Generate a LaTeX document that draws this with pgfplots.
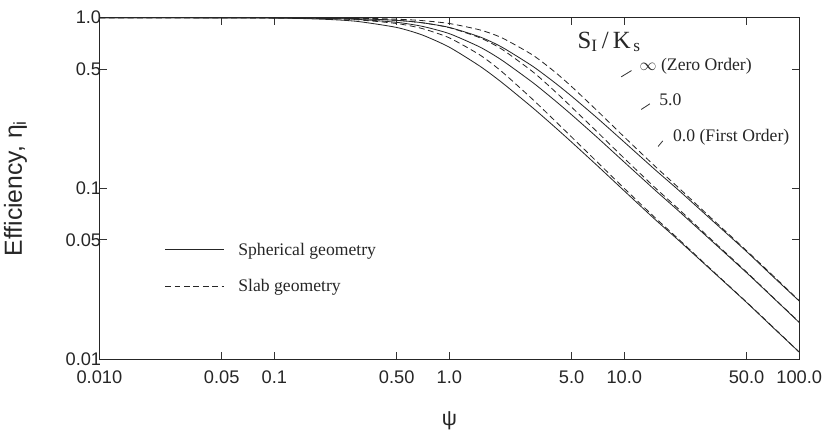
\documentclass[border=0pt]{standalone}
\usepackage{fontspec}
\setmainfont{Liberation Serif}
\setsansfont{Liberation Sans}
\usepackage{pgfplots}
\usepackage{pgfplotstable}
\pgfplotsset{compat=1.18}

% psi, sphere (first, 5.0, zero order), slab (first, 5.0, zero order)
\pgfplotstableread{
psi   s1     s5     sz     b1     b5     bz
0.01  1.0000 1.0000 1.0000 1.0000 1.0000 1.0000
0.1   0.9940 0.9973 0.9985 0.9967 0.9985 0.9992
0.2   0.9768 0.9895 0.9941 0.9869 0.9941 0.9967
0.3   0.9498 0.9768 0.9868 0.9710 0.9869 0.9926
0.5   0.8763 0.9391 0.9644 0.9242 0.9645 0.9797
0.7   0.7918 0.8897 0.9335 0.8634 0.9332 0.9611
1     0.6716 0.8060 0.8763 0.7616 0.8742 0.9242
1.5   0.5187 0.6716 0.7707 0.6034 0.7616 0.8469
2     0.4167 0.5630 0.6716 0.4820 0.6526 0.7616
3     0.2963 0.4167 0.5187 0.3317 0.4820 0.6034
4     0.2292 0.3281 0.4167 0.2498 0.3714 0.4820
5     0.1867 0.2700 0.3467 0.2000 0.2992 0.3947
7     0.1361 0.1990 0.2585 0.1429 0.2143 0.2852
10    0.0967 0.1425 0.1867 0.1000 0.1500 0.2000
15    0.0658 0.0977 0.1287 0.0674 0.1010 0.1347
20    0.0507 0.0753 0.0996 0.0515 0.0773 0.1030
30    0.0347 0.0517 0.0685 0.0350 0.0525 0.0700
50    0.0215 0.0321 0.0427 0.0216 0.0324 0.0432
70    0.0155 0.0232 0.0308 0.0156 0.0233 0.0312
100   0.0110 0.0164 0.0219 0.0110 0.0165 0.0220
}\effdata

\begin{document}
\begin{tikzpicture}
\begin{axis}[
  name=ax,
  scale only axis, width=20.9cm, height=10.2cm,
  xmode=log, ymode=log,
  xmin=0.01, xmax=100, ymin=0.01, ymax=1,
  xtick={0.01,0.05,0.1,0.5,1,5,10,50,100},
  xticklabels={0.010,0.05,0.1,0.50,1.0,5.0,10.0,50.0,100.0},
  ytick={0.01,0.05,0.1,0.5,1},
  yticklabels={0.01,0.05,0.1,0.5,1.0},
  tick label style={font=\sffamily\fontsize{15.5}{17}\selectfont, text=black!85},
  xticklabel style={yshift=-6pt},
  yticklabel style={xshift=5pt},
  major tick length=0.22cm, minor tick length=0.13cm,
  tick style={black!80, line width=0.6pt},
  axis line style={black!85, line width=1pt},
  xlabel={\sffamily ψ}, xlabel style={font=\fontsize{18}{20}\selectfont, text=black!85, yshift=-17pt},
  ylabel={Efficiency, η\textsubscript{i}},
  ylabel style={font=\sffamily\fontsize{21}{23}\selectfont, text=black!85, yshift=26pt},
  legend style={at={(0.088,0.355)}, anchor=north west, draw=none, fill=none,
                font=\fontsize{15}{17}\selectfont, row sep=15pt, text=black!85,
                /tikz/every odd column/.style={column sep=10pt}},
  legend cell align=left,
  /pgfplots/legend image code/.code={\draw[#1] (0cm,0cm) -- (1.75cm,0cm);},
  every axis plot/.append style={black!85, line width=0.7pt, smooth, tension=0.4},
]
\addplot[solid] table[x=psi, y=s1] {\effdata};
\addlegendentry{Spherical geometry}
\addplot[dash pattern=on 5pt off 3pt] table[x=psi, y=b1] {\effdata};
\addlegendentry{Slab geometry}
\addplot[forget plot, solid] table[x=psi, y=s5] {\effdata};
\addplot[forget plot, solid] table[x=psi, y=sz] {\effdata};
\addplot[forget plot, dash pattern=on 5pt off 3pt] table[x=psi, y=b5] {\effdata};
\addplot[forget plot, dash pattern=on 5pt off 3pt] table[x=psi, y=bz] {\effdata};

\node[font=\fontsize{21}{23}\selectfont, text=black!85] at (axis cs:8.2,0.72) {S$_\mathrm{I}$\,/\,K$_\mathrm{\,s}$};
\node[anchor=west, font=\fontsize{15}{17}\selectfont, text=black!85] at (axis cs:11.6,0.52) {$\infty$ (Zero Order)};
\node[anchor=west, font=\fontsize{15}{17}\selectfont, text=black!85] at (axis cs:15.0,0.33) {5.0};
\node[anchor=west, font=\fontsize{15}{17}\selectfont, text=black!85] at (axis cs:18.0,0.20) {0.0 (First Order)};
\draw[black!80, line width=0.7pt] (axis cs:9.6,0.45) -- (axis cs:11.0,0.49);
\draw[black!80, line width=0.7pt] (axis cs:12.5,0.29) -- (axis cs:14.0,0.313);
\draw[black!80, line width=0.7pt] (axis cs:15.6,0.176) -- (axis cs:16.6,0.19);
\end{axis}
\path (ax.north west) ++(0,15pt);
\end{tikzpicture}
\end{document}
